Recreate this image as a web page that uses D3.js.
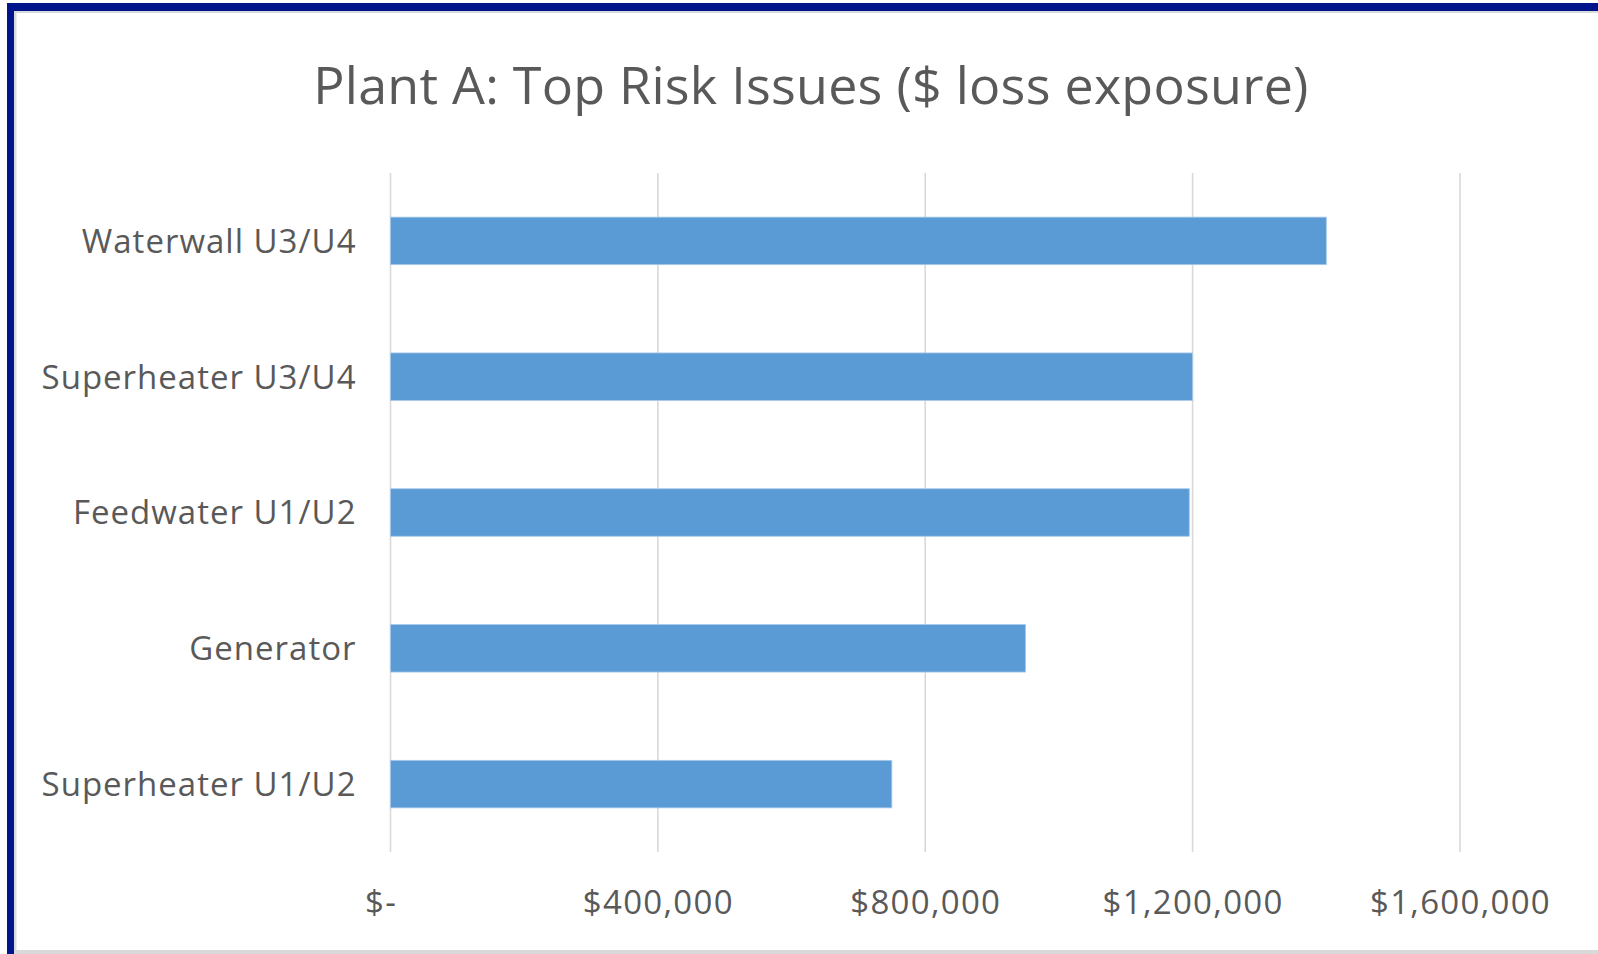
<!DOCTYPE html>
<html>
<head>
<meta charset="utf-8">
<script src="https://cdn.jsdelivr.net/npm/d3@7"></script>
<style>
  html, body { margin: 0; padding: 0; background: #fff; }
  svg { display: block; }
  text { font-family: "Open Sans", "Noto Sans", sans-serif; }
</style>
</head>
<body>
<svg id="chart" width="1598" height="954"></svg>
<script>
// Loss exposure by risk issue, top to bottom
const categories = ["Waterwall U3/U4", "Superheater U3/U4", "Feedwater U1/U2", "Generator", "Superheater U1/U2"];
const lossExposure = [1400000, 1200000, 1195000, 950000, 750000];
const xTicks = [0, 400000, 800000, 1200000, 1600000];
const titleText = "Plant A: Top Risk Issues ($ loss exposure)";

const svg = d3.select("#chart");
const W = 1598, H = 954;

// frame: dark blue top/left edge, light grey inner rule
svg.append("rect").attr("x", 0).attr("y", 0).attr("width", W).attr("height", H).attr("fill", "#fff");
svg.append("rect").attr("x", 7).attr("y", 3).attr("width", W - 7).attr("height", 8).attr("fill", "#00148c");
svg.append("rect").attr("x", 7).attr("y", 3).attr("width", 7).attr("height", H - 3).attr("fill", "#00148c");
svg.append("rect").attr("x", 14).attr("y", 11).attr("width", W - 14).attr("height", 2).attr("fill", "#d9d9d9");
svg.append("rect").attr("x", 14).attr("y", 11).attr("width", 2.5).attr("height", H - 11).attr("fill", "#d9d9d9");
svg.append("rect").attr("x", 14).attr("y", 950).attr("width", W - 14).attr("height", 4).attr("fill", "#d9d9d9");

const plot = { left: 390.5, right: 1460, top: 173, bottom: 852 };

const x = d3.scaleLinear().domain([0, 1600000]).range([plot.left, plot.right]);
const y = d3.scaleBand().domain(categories).range([plot.top, plot.bottom])
  .paddingInner(0.65).paddingOuter(0.325);

// vertical gridlines
svg.append("g").selectAll("line").data(xTicks).join("line")
  .attr("x1", d => x(d)).attr("x2", d => x(d))
  .attr("y1", plot.top).attr("y2", plot.bottom)
  .attr("stroke", "#d9d9d9").attr("stroke-width", 1.6);

// bars
svg.append("g").selectAll("rect").data(lossExposure).join("rect")
  .attr("x", x(0))
  .attr("y", (d, i) => y(categories[i]))
  .attr("width", d => x(d) - x(0))
  .attr("height", y.bandwidth())
  .attr("fill", "#5b9bd5")
  .attr("stroke", "#a9c9ea").attr("stroke-width", 0.8);

// category axis
const yAxis = d3.axisLeft(y).tickSize(0).tickPadding(0);
const gy = svg.append("g").attr("transform", `translate(${plot.left - 34},0)`).call(yAxis);
gy.select(".domain").remove();
gy.selectAll("text")
  .attr("font-size", 33).attr("fill", "#595959")
  .attr("font-family", "'Open Sans', sans-serif")
  .attr("letter-spacing", 1)
  .attr("dy", "0.36em");

// value axis
const fmt = d => d === 0 ? "$-  " : "$" + d3.format(",")(d);
const xAxis = d3.axisBottom(x).tickValues(xTicks).tickFormat(fmt).tickSize(0).tickPadding(0);
const gx = svg.append("g").attr("transform", "translate(0,902)").call(xAxis);
gx.select(".domain").remove();
gx.selectAll("text")
  .attr("font-size", 33).attr("fill", "#595959")
  .attr("font-family", "'Open Sans', sans-serif")
  .attr("letter-spacing", 1.3)
  .attr("dy", "0.35em")
  .style("white-space", "pre");

// title
svg.append("text")
  .attr("x", 811).attr("y", 104)
  .attr("text-anchor", "middle")
  .attr("font-size", 52).attr("fill", "#595959")
  .attr("letter-spacing", 0.25)
  .text(titleText);
</script>
</body>
</html>
